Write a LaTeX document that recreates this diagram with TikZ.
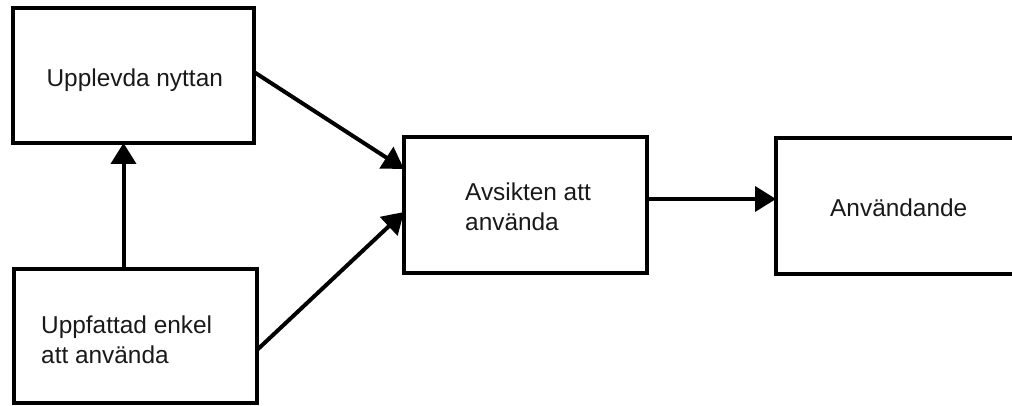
\documentclass[tikz,border=0pt]{standalone}
\usepackage{fontspec}
\setmainfont{Liberation Sans}
\usetikzlibrary{arrows.meta,calc}
\begin{document}
\begin{tikzpicture}[x=1pt,y=-1pt,
  box/.style={draw=black, line width=4pt, inner sep=0pt, outer sep=0pt},
  lbl/.style={font=\fontsize{24.4}{29.5}\selectfont, text=black!90, inner sep=0pt, align=left, anchor=base west},
  link/.style={line width=4pt, -{Triangle[length=21pt,width=25pt]}}]
\useasboundingbox (0,0) rectangle (1012,406);

% boxes
\node[box, minimum width=241pt, minimum height=135pt] (b1) at (133.5,75.5) {};
\node[box, minimum width=243pt, minimum height=134pt] (b2) at (135.5,336) {};
\node[box, minimum width=243pt, minimum height=136pt] (b3) at (525.5,205) {};
\node[box, minimum width=240pt, minimum height=136pt] (b4) at (896,206) {};

% box texts (the base anchor sits on the last line)
\node[lbl] (t1) at (46.4,87) {Upplevda nyttan};
\node[lbl] (t2) at (41,363) {Uppfattad enkel\\att använda};
\node[lbl] (t3) at (465,230) {Avsikten att\\använda};
\node[lbl] (t4) at (830,217) {Användande};

% connectors
\draw[link] ([xshift=-12pt]b2.north) -- ([xshift=-12pt]b2.north |- b1.south);
\draw[link] ([yshift=3.5pt]b1.east) -- ([yshift=-32pt]b3.north west);
\draw[link] ([yshift=-14pt]b2.east) -- ([yshift=-7pt]b3.west);
\draw[link] ([yshift=6pt]b3.east) -- ([yshift=6pt]b3.east -| b4.west);
\end{tikzpicture}
\end{document}
